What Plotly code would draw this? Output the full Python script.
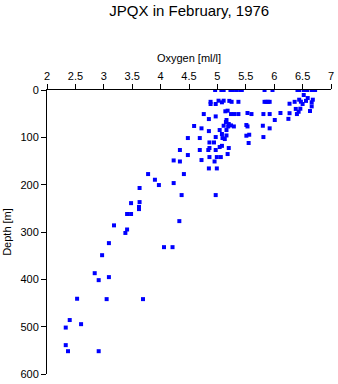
import plotly.graph_objects as go

title_text = "JPQX in February, 1976"
x_title = "Oxygen [ml/l]"
y_title = "Depth [m]"

oxygen = [
    # surface
    4.96, 5.07, 5.11, 5.23, 5.27, 5.33, 5.40, 5.43, 5.83, 5.97, 6.41, 6.44, 6.52, 6.56, 6.58, 6.66, 6.69, 6.72,
    # high-oxygen cluster
    6.52, 6.59, 6.68, 6.44, 6.47, 6.56, 6.66, 6.50, 6.27, 6.36, 6.66, 6.38, 6.46, 6.43, 6.40, 6.63, 6.25, 6.27,
    5.83, 5.86, 5.89, 5.92, 6.11, 5.92, 5.81, 6.01, 5.80, 5.92, 5.81,
    5.53, 5.60, 5.51, 5.53, 5.51, 5.56, 5.55,
    5.37, 5.25, 5.21, 5.11, 5.08, 5.02, 4.97, 4.88, 4.88, 5.14, 5.18, 5.24, 5.30, 5.37,
    4.76, 4.97, 4.85, 5.16, 5.15, 5.20, 5.24, 5.29, 5.11, 5.19, 4.59, 4.72, 4.85, 5.04, 5.16,
    5.08, 5.16, 5.09, 5.13, 4.97, 4.48, 4.69, 4.86, 4.94, 5.04, 5.08, 5.20, 4.86, 4.84, 4.97,
    4.69, 4.34, 4.48, 5.18, 4.86, 4.99, 5.06, 4.72, 4.95, 4.23, 4.34, 4.85, 4.99, 4.41, 4.23,
    4.37, 4.97, 4.33,
    # deeper
    3.78, 3.90, 3.97, 3.63, 3.48, 3.63, 3.62, 3.62, 3.41, 3.48, 3.18, 3.41, 3.38, 3.09, 4.06, 4.21,
    2.97, 2.84, 2.91, 3.09, 2.53, 3.05, 3.69, 2.40, 2.60, 2.33, 2.33, 2.37, 2.91,
]
depth = [
    0, 0, 0, 0, 0, 0, 0, 0, 0, 0, 0, 0, 0, 0, 0, 0, 0, 0,
    10.6, 17, 20.5, 20.5, 24.7, 23, 26, 29.6, 29, 25, 34.6, 40, 39.5, 45.9, 50.8, 44.4, 61, 49,
    25, 25, 25, 25, 48.6, 50.8, 50.8, 63.4, 75.5, 81, 99.4,
    48.6, 50.8, 74, 77, 96.6, 94.5, 112,
    25, 25, 23, 22.6, 26, 22.6, 29.6, 25, 29.6, 45, 43.7, 50.8, 50.8, 50.8,
    50.8, 55.8, 61.4, 63.4, 67.7, 71.9, 74.8, 77, 75.5, 77, 76, 81, 86.8, 84.6, 84.6,
    93, 96, 101.5, 103.6, 99.4, 101.5, 101.5, 110.8, 110.8, 120.5, 118, 122.6, 122.6, 126.8, 126.8,
    126.8, 126.8, 137.4, 135.3, 141.7, 141.7, 141.7, 148, 151, 148.8, 151, 165.7, 165.7, 177.6, 196.6,
    222, 222, 277,
    177.6, 189.6, 200.8, 207, 239, 236.8, 247, 251.6, 262, 262, 286, 294.7, 302, 323.5, 332, 332,
    349, 387, 401.7, 395.3, 441, 441.8, 441.8, 486, 494.7, 501.9, 539, 551.8, 551.8,
]

x_ticks = [2, 2.5, 3, 3.5, 4, 4.5, 5, 5.5, 6, 6.5, 7]
y_ticks = [0, 100, 200, 300, 400, 500, 600]

font_family = "Liberation Sans, Arial, Helvetica, sans-serif"

fig = go.Figure(
    go.Scatter(
        x=oxygen, y=depth, mode="markers",
        marker=dict(symbol="square", size=4, color="#0000ff", line=dict(width=0)),
        hoverinfo="skip",
    )
)

fig.update_layout(
    width=338, height=384,
    margin=dict(l=47, r=7, t=90, b=10, autoexpand=False),
    paper_bgcolor="white", plot_bgcolor="white",
    showlegend=False,
    font=dict(family=font_family, size=11, color="black"),
    title=dict(text=title_text, x=0.56, xanchor="center", y=0.985, yanchor="top",
               font=dict(family=font_family, size=15, color="black")),
    xaxis=dict(
        side="top", range=[2, 7], tickvals=x_ticks, ticktext=[f"{v:g}" for v in x_ticks],
        ticks="outside", ticklen=5, tickcolor="black", tickwidth=1,
        showline=True, linecolor="black", linewidth=1, mirror=False,
        showgrid=False, zeroline=False, automargin=False,
        title=dict(text=x_title, standoff=4, font=dict(size=11)),
        tickfont=dict(size=11),
    ),
    yaxis=dict(
        range=[600, 0], tickvals=y_ticks, ticktext=[str(v) for v in y_ticks],
        ticks="outside", ticklen=5, tickcolor="black", tickwidth=1,
        showline=True, linecolor="black", linewidth=1, mirror=False,
        showgrid=False, zeroline=False, automargin=False,
        title=dict(text=y_title, standoff=6, font=dict(size=11)),
        tickfont=dict(size=11),
    ),
)

fig.write_html("out.html")
